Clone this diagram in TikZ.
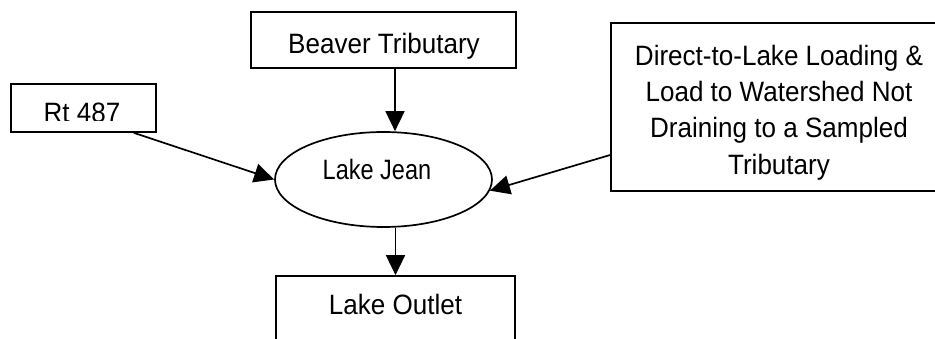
\documentclass[tikz,border=0pt]{standalone}
\usepackage{fontspec}
\setmainfont[FakeStretch=0.93]{Liberation Sans}
\newfontfamily\lakefont[FakeStretch=0.84]{Liberation Sans}
\usetikzlibrary{arrows.meta,shapes.geometric}
\begin{document}
\begin{tikzpicture}[x=1pt,y=-1pt,
  frame/.style={draw,line width=1.7pt,rectangle,inner sep=0pt},
  lbl/.style={inner sep=0pt,font=\fontsize{28}{36.2}\selectfont,align=center},
  arr/.style={line width=1.7pt,-{Triangle[length=20pt,width=19pt]}}]
\useasboundingbox (0,0) rectangle (935,339);
\clip (0,0) rectangle (935,339);

% source boxes
\node[frame,minimum width=145pt,minimum height=48pt] (rt) at (83.5,108) {};
\begin{scope}
  \clip (11,84) rectangle (156,120.5);
  \node[lbl,anchor=base] (rtlabel) at (82,122.5) {Rt 487};
\end{scope}

\node[frame,minimum width=265pt,minimum height=56pt] (beaver) at (383.5,40) {};
\node[lbl,anchor=base] (beaverlabel) at (384,53.3) {Beaver Tributary};

\node[frame,minimum width=336pt,minimum height=168pt] (direct) at (779,107) {};
\node[lbl] (directlabel) at (779,112.5) {Direct-to-Lake Loading \&\\Load to Watershed Not\\Draining to a Sampled\\Tributary};

% the lake
\node[draw,ellipse,line width=1.7pt,inner sep=0pt,minimum width=217pt,minimum height=95pt] (lake) at (383.5,179.5) {};
\node[inner sep=0pt,font=\lakefont\fontsize{28}{30}\selectfont,anchor=base] (lakelabel) at (377,180) {Lake Jean};

% outlet
\node[frame,minimum width=239pt,minimum height=100pt] (outlet) at (395.5,326) {};
\node[lbl,anchor=base] (outletlabel) at (395.5,315) {Lake Outlet};

% flows
\draw[arr] ([xshift=-23pt]rt.south east) -- (lake.west);
\draw[arr] ([xshift=11.5pt]beaver.south) -- ([xshift=11.5pt]lake.north);
\draw[arr] ([yshift=-48pt]direct.west) -- (lake.-6);
\draw[arr] (lake.south -| outlet.north) -- (outlet.north);
\end{tikzpicture}
\end{document}
